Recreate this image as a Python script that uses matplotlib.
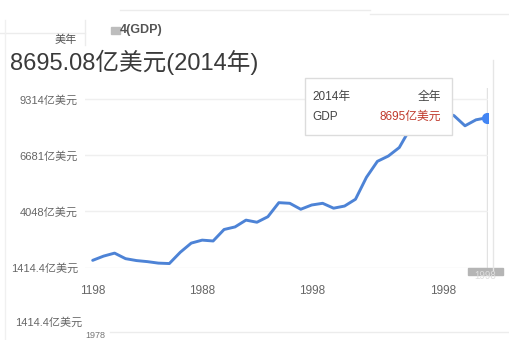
import matplotlib
matplotlib.use("Agg")
import matplotlib.pyplot as plt
from matplotlib.patches import Rectangle, FancyBboxPatch
from matplotlib.lines import Line2D

plt.rcParams['font.family'] = ['Liberation Sans', 'Noto Sans CJK SC', 'DejaVu Sans']

# data (亿美元)
years = list(range(1978, 2015))
gdp = [1750, 1950, 2090, 1830, 1740, 1690, 1620, 1600, 2130, 2560,
       2700, 2660, 3200, 3320, 3640, 3540, 3800, 4460, 4430, 4150,
       4350, 4430, 4200, 4300, 4620, 5650, 6400, 6650, 7050, 7950,
       8700, 8650, 8750, 8545, 8070, 8350, 8450]

y_ticks = [1414.4, 4048, 6681, 9314]
y_labels = ["1414.4亿美元", "4048亿美元", "6681亿美元", "9314亿美元"]
x_ticks = [1978, 1988, 1998, 2010]
x_labels = ["1198", "1988", "1998", "1998"]

title = "8695.08亿美元(2014年)"
tip_year = "2014年"
tip_period = "全年"
tip_name = "GDP"
tip_value = "8695亿美元"

W, H = 510, 340


def fx(x):
    return x / W


def fy(y):
    return 1 - y / H


fig = plt.figure(figsize=(5.1, 3.4), dpi=100)
fig.patch.set_facecolor("white")

ax = fig.add_axes([fx(85), fy(268), (488 - 85) / W, (268 - 88) / H])
ax.plot(years, gdp, color="#4d83d6", lw=2.1, solid_capstyle="round", zorder=3)
ax.plot(years[-1], gdp[-1], "o", color="#4285f4", ms=7, zorder=4)
ax.set_xlim(1977.3, 2014.1)
ax.set_ylim(1391, 9845)
ax.set_yticks(y_ticks)
ax.set_yticklabels(y_labels)
ax.set_xticks(x_ticks)
ax.set_xticklabels(x_labels)
ax.tick_params(length=0, labelsize=8, labelcolor="#666666", pad=5)
ax.tick_params(axis="x", labelsize=8.5, pad=12)
ax.grid(axis="y", color="#efefef", lw=1)
for s in ax.spines.values():
    s.set_visible(False)
ax.axvline(2014, color="#e2e2e2", lw=1, zorder=1)

# title and header bits
fig.text(fx(10), fy(62), title, fontsize=17, color="#3a3a3a", va="center")
fig.text(fx(55), fy(40), "美年", fontsize=8, color="#555555", va="center")
fig.text(fx(120), fy(30), "4(GDP)", fontsize=9, color="#555555",
         va="center", weight="bold")
fig.patches.append(Rectangle((fx(111), fy(34)), 9 / W, 7 / H,
                             transform=fig.transFigure, color="#bdbdbd"))

# faint screenshot seams
for x0, x1, y in [(120, 370, 10), (370, 510, 14), (0, 85, 33), (110, 510, 332)]:
    fig.lines.append(Line2D([fx(x0), fx(x1)], [fy(y), fy(y)],
                            transform=fig.transFigure, color="#ececec", lw=1))
fig.lines.append(Line2D([fx(85), fx(85)], [fy(20), fy(45)],
                        transform=fig.transFigure, color="#ececec", lw=1))
fig.lines.append(Line2D([fx(5), fx(5)], [fy(20), fy(340)],
                        transform=fig.transFigure, color="#f0f0f0", lw=1))
fig.lines.append(Line2D([fx(493), fx(493)], [fy(60), fy(270)],
                        transform=fig.transFigure, color="#e6e6e6", lw=1))

# bottom leftovers
fig.text(fx(82), fy(323), y_labels[0], fontsize=8, color="#666666",
         ha="right", va="center")
fig.text(fx(85), fy(335), str(years[0]), fontsize=6.5, color="#777777",
         va="center")
fig.patches.append(Rectangle((fx(468), fy(275)), 35 / W, 7 / H,
                             transform=fig.transFigure, color="#b5b5b5"))
fig.text(fx(485), fy(276), x_labels[-1], fontsize=7, color="#dddddd",
         ha="center", va="center")

# tooltip
tip = FancyBboxPatch((fx(305), fy(135)), (452 - 305) / W, (135 - 78) / H,
                     boxstyle="square,pad=0", transform=fig.transFigure,
                     facecolor="white", edgecolor="#dcdcdc", lw=1, zorder=10)
fig.patches.append(tip)
fig.text(fx(312), fy(97), tip_year, fontsize=8.5, color="#444444",
         va="center", zorder=11)
fig.text(fx(441), fy(97), tip_period, fontsize=8.5, color="#444444",
         va="center", ha="right", zorder=11)
fig.text(fx(312), fy(117), tip_name, fontsize=8.5, color="#444444",
         va="center", zorder=11)
fig.text(fx(441), fy(117), tip_value, fontsize=8.5, color="#c0392b",
         va="center", ha="right", zorder=11)

fig.savefig("out.png", dpi=100, facecolor="white")
